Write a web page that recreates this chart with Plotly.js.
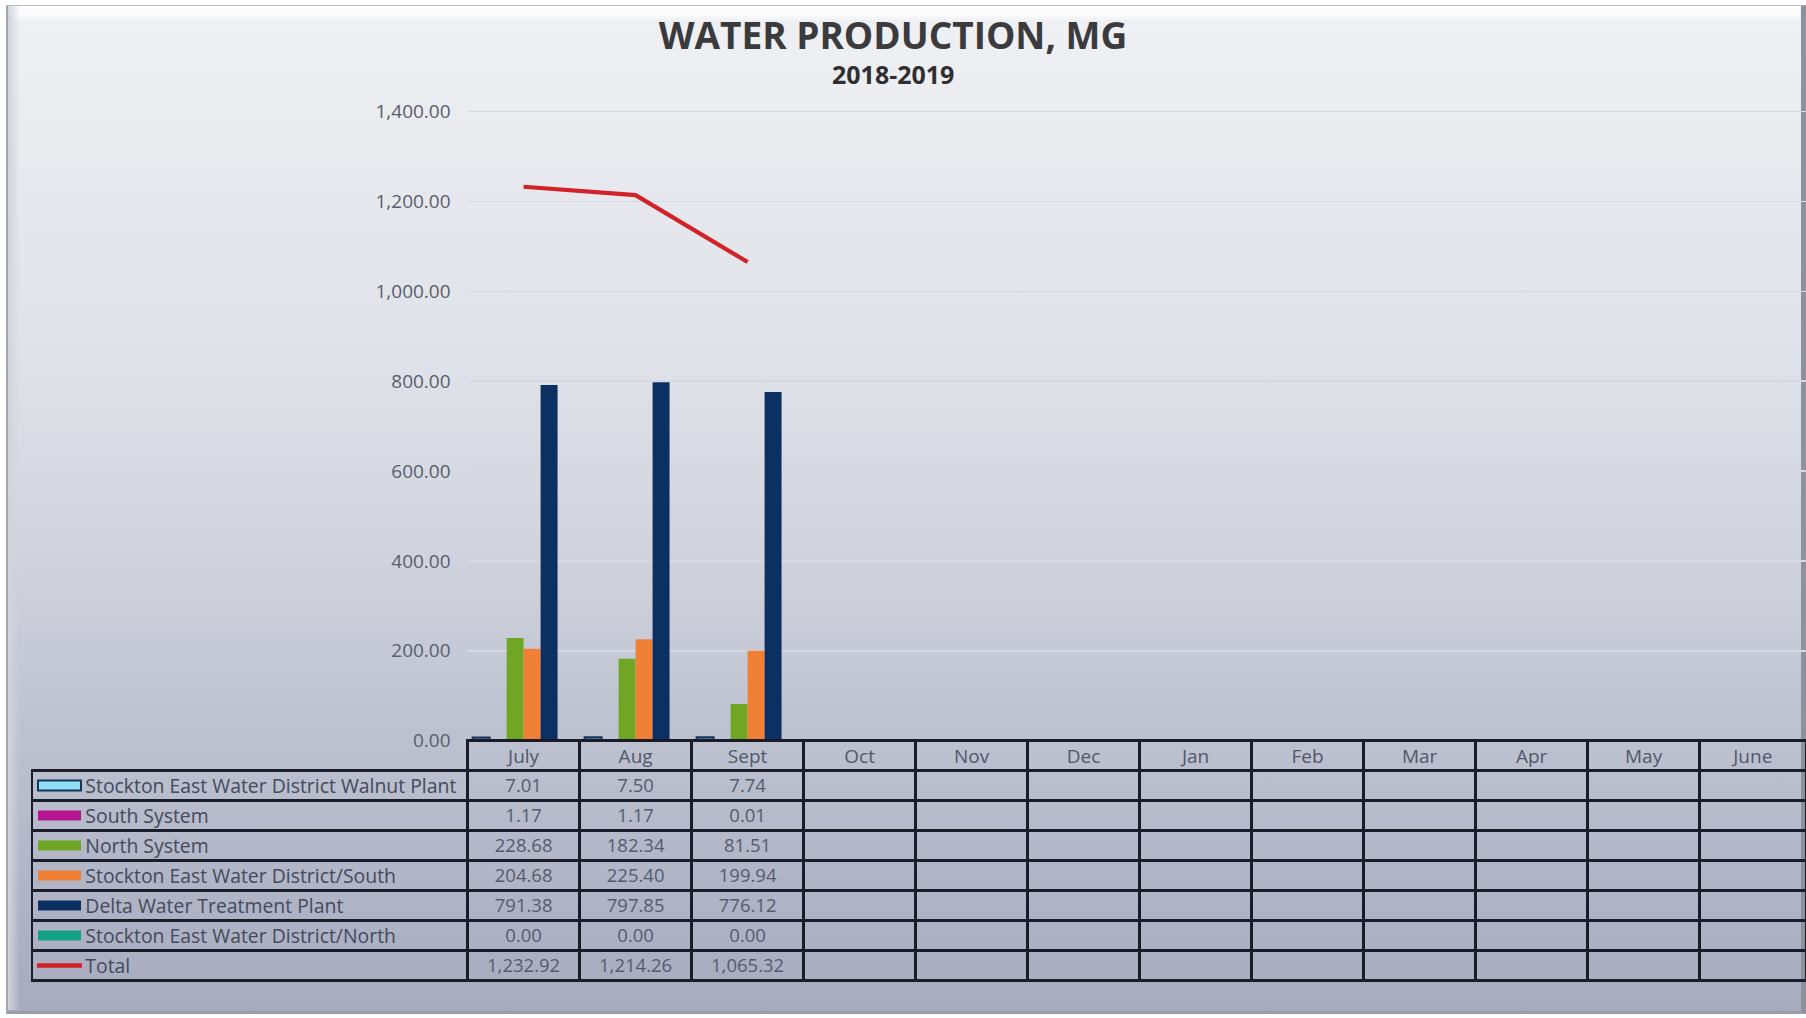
<!DOCTYPE html>
<html>
<head>
<meta charset="utf-8">
<script src="https://cdn.plot.ly/plotly-3.0.1.min.js"></script>
<style>
html,body{margin:0;padding:0;background:#ffffff;width:1806px;height:1018px;overflow:hidden}
#frame{position:absolute;left:6px;top:5px;width:1793px;height:1005px;
  border-top:1px solid #b9bcc3;border-left:2px solid #a3a6ae;border-right:6px solid #8d919c;border-bottom:3px solid #9a9eab;
  background:linear-gradient(to bottom,#f0f1f4 0%,#e9ebef 12%,#dfe2e8 35%,#d0d3dd 55%,#bec2d0 72%,#b0b4c5 88%,#a7abbe 100%);}
#bevelTop{position:absolute;left:8px;top:6px;width:1792px;height:15px;background:linear-gradient(to bottom,#ffffff 0%,#fafbfc 60%,#eef0f3 100%)}
#bevelLeft{position:absolute;left:8px;top:6px;width:12px;height:1004px;background:linear-gradient(to right,#d2d4d9 0%,rgba(230,232,236,0.0) 100%)}
#chart{position:absolute;left:0;top:0;width:1806px;height:1018px}
</style>
</head>
<body>
<div id="frame"></div>
<div id="bevelTop"></div>
<div id="bevelLeft"></div>
<div id="chart"></div>
<script>
// ---- data ----
const months = ['July','Aug','Sept','Oct','Nov','Dec','Jan','Feb','Mar','Apr','May','June'];
const seriesNames = [
  'Stockton East Water District Walnut Plant',
  'South System',
  'North System',
  'Stockton East Water District/South',
  'Delta Water Treatment Plant',
  'Stockton East Water District/North',
  'Total'
];
const walnutPlant = [7.01, 7.50, 7.74];
const southSystem = [1.17, 1.17, 0.01];
const northSystem = [228.68, 182.34, 81.51];
const sewdSouth   = [204.68, 225.40, 199.94];
const deltaPlant  = [791.38, 797.85, 776.12];
const sewdNorth   = [0.00, 0.00, 0.00];
const totalProd   = [1232.92, 1214.26, 1065.32];
const yTicks = [0, 200, 400, 600, 800, 1000, 1200, 1400];

// ---- styles ----
const W = 1806, H = 1018;
const colors = ['#8fdff5', '#b5168f', '#6fa624', '#ef8035', '#0d3063', '#13a084', '#d32128'];
const outlineWalnut = '#15365c';
const FONT = 'Open Sans';
const plotLeft = 467.6, colW = 112, tableLeft = 32;
const axisY = 740.6, rowH = 30;
const yTop = 1420, pxPerUnit = 628.9 / 1400;

const seriesData = [walnutPlant, southSystem, northSystem, sewdSouth, deltaPlant, sewdNorth];

const traces = [];
seriesData.forEach((vals, i) => {
  traces.push({
    type: 'bar',
    name: seriesNames[i],
    x: months.slice(0, vals.length),
    y: vals,
    marker: {color: i === 0 ? '#4f86a8' : colors[i], line: {color: i === 0 ? outlineWalnut : colors[i], width: i === 0 ? 2 : 0}},
    hoverinfo: 'x+y+name',
    xaxis: 'x', yaxis: 'y'
  });
});
traces.push({
  type: 'scatter', mode: 'lines', name: seriesNames[6],
  x: months.slice(0, totalProd.length), y: totalProd,
  line: {color: colors[6], width: 4.2},
  xaxis: 'x', yaxis: 'y'
});

// table
const fmt = v => v.toLocaleString('en-US', {minimumFractionDigits: 2, maximumFractionDigits: 2});
const allSeries = seriesData.concat([totalProd]);
const NB = '\u00a0';
const pad = NB.repeat(9);
const colValues = [seriesNames.map(n => pad + n.split(' ').join(NB))];
months.forEach((m, j) => {
  colValues.push(allSeries.map(s => (j < s.length ? fmt(s[j]) : '')));
});
const lineDark = '#1a1d29';
const colWidths = [plotLeft - tableLeft].concat(months.map((m, j) => j < months.length - 1 ? colW : (W - plotLeft - colW * (months.length - 1))));
traces.push({
  type: 'table',
  domain: {x: [tableLeft / W, 1], y: [1 - (axisY + 8 * rowH + 4) / H, 1 - axisY / H]},
  columnwidth: colWidths,
  header: {
    values: [''].concat(months),
    height: rowH,
    align: 'center',
    fill: {color: 'rgba(0,0,0,0)'},
    line: {color: ['rgba(0,0,0,0)'].concat(months.map(() => lineDark)), width: 2.5},
    font: {family: FONT, size: 19, color: '#535869'}
  },
  cells: {
    values: colValues,
    height: rowH,
    align: ['left'].concat(months.map(() => 'center')),
    fill: {color: 'rgba(0,0,0,0)'},
    line: {color: lineDark, width: 2.5},
    font: {family: FONT, size: [19.4].concat(months.map(() => 18.5)), color: ['#454a5c'].concat(months.map(() => '#575c6d'))}
  }
});

// legend swatches in table first column
const shapes = [];
const kx0 = 38, kx1 = 81;
allSeries.forEach((s, i) => {
  const cy = axisY + rowH + rowH * (i + 0.5);
  if (i === 6) {
    shapes.push({type: 'line', xref: 'paper', yref: 'paper', x0: 37 / W, x1: 82 / W, y0: 1 - cy / H, y1: 1 - cy / H,
      line: {color: colors[6], width: 4.5}});
  } else {
    shapes.push({type: 'rect', xref: 'paper', yref: 'paper', x0: kx0 / W, x1: kx1 / W, y0: 1 - (cy + 5) / H, y1: 1 - (cy - 5) / H,
      fillcolor: colors[i], line: {color: i === 0 ? outlineWalnut : colors[i], width: i === 0 ? 2 : 0}});
  }
});

const plotTopPx = axisY - yTop * pxPerUnit;
const layout = {
  width: W, height: H, autosize: false,
  margin: {l: 0, r: 0, t: 0, b: 0, pad: 0},
  paper_bgcolor: 'rgba(0,0,0,0)',
  plot_bgcolor: 'rgba(0,0,0,0)',
  showlegend: false,
  barmode: 'group', bargap: 0.09, bargroupgap: 0,
  title: {
    text: '<b>WATER PRODUCTION, MG</b>',
    font: {family: FONT, size: 37, color: '#3b3b3d'},
    x: 893 / W, xanchor: 'center', xref: 'paper',
    y: 1 - 36 / H, yanchor: 'middle', yref: 'paper'
  },
  annotations: [{
    text: '<b>2018-2019</b>', xref: 'paper', yref: 'paper', x: 893 / W, y: 1 - 74 / H,
    xanchor: 'center', yanchor: 'middle', showarrow: false,
    font: {family: FONT, size: 25, color: '#2f2f31'}
  }],
  xaxis: {
    type: 'category', categoryorder: 'array', categoryarray: months,
    domain: [plotLeft / W, 1],
    range: [-0.5, (W - plotLeft) / colW - 0.5],
    showticklabels: false, showgrid: false, zeroline: false, showline: false, ticks: '', fixedrange: true
  },
  yaxis: {
    domain: [1 - axisY / H, 1 - plotTopPx / H],
    range: [0, yTop],
    tickvals: yTicks,
    tickformat: ',.2f',
    showgrid: true, gridcolor: '#d6d9e0', gridwidth: 1.5,
    zeroline: false, showline: false, ticks: '',
    ticklabelstandoff: 16,
    tickfont: {family: FONT, size: 19, color: '#595e6c'},
    fixedrange: true
  },
  shapes: shapes
};

Plotly.newPlot('chart', traces, layout, {displayModeBar: false, staticPlot: true});
</script>
</body>
</html>
